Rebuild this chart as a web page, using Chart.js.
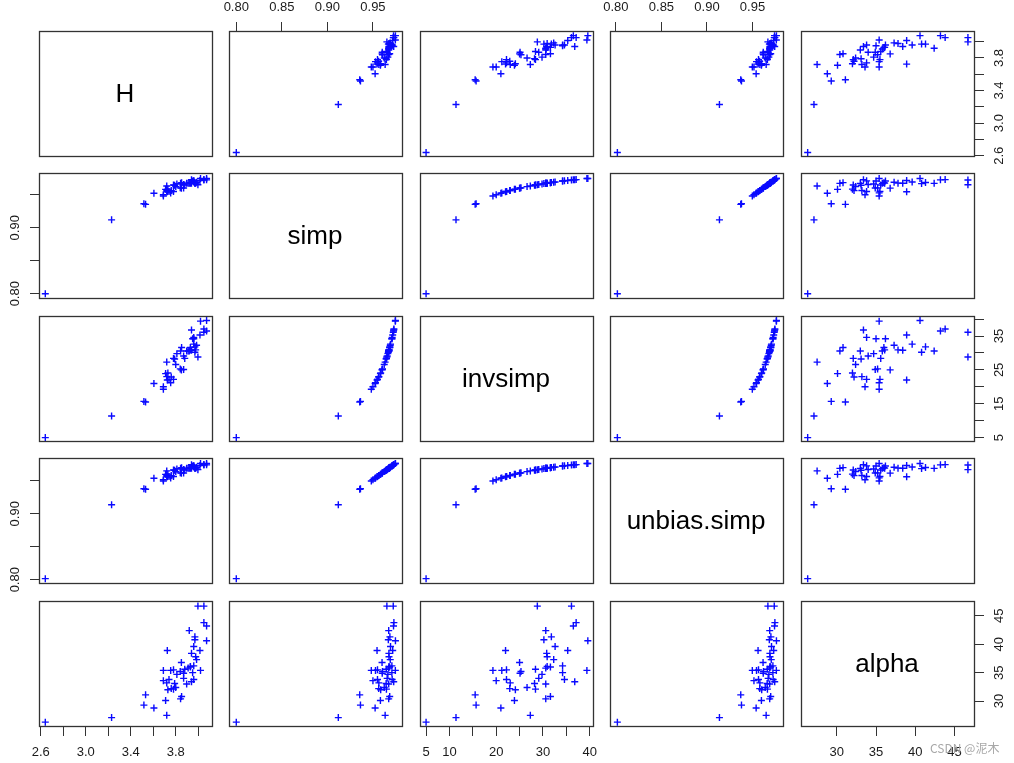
<!DOCTYPE html>
<html><head><meta charset="utf-8">
<script src="https://cdn.jsdelivr.net/npm/chart.js@4.4.1/dist/chart.umd.min.js"></script>
<style>
html,body{margin:0;padding:0;background:#fff;width:1014px;height:763px;overflow:hidden;}
#wrap{position:absolute;left:0;top:0;width:1014px;height:763px;}
#wrap canvas{position:absolute;}
#wm{position:absolute;left:930px;top:739px;font:12px 'Noto Sans CJK SC','Liberation Sans',sans-serif;color:#a8a8a8;white-space:nowrap;}
</style></head><body><div id="wrap"></div><div id="wm">CSDN @泥木</div>
<script>
// ---- data ----
const varNames = ['H', 'simp', 'invsimp', 'unbias.simp', 'alpha'];
const H = [2.641,3.230,3.532,3.517,3.606,3.720,3.710,3.843,3.852,3.790,3.800,3.780,3.760,3.897,3.720,3.730,3.690,3.870,3.960,3.940,3.950,3.810,3.690,3.755,3.780,3.840,4.020,3.880,3.870,3.930,3.910,3.850,3.977,3.985,3.940,3.725,3.960,4.015,4.074,3.970,3.970,3.920,4.050,4.074,3.997,4.050,3.960,3.740,3.930];
const simp = [0.8000,0.9120,0.9355,0.9363,0.9524,0.9634,0.9582,0.9673,0.9684,0.9645,0.9624,0.9648,0.9563,0.9673,0.9565,0.9585,0.9500,0.9656,0.9711,0.9728,0.9708,0.9664,0.9482,0.9528,0.9550,0.9605,0.9746,0.9648,0.9602,0.9676,0.9673,0.9600,0.9676,0.9690,0.9675,0.9545,0.9693,0.9717,0.9747,0.9686,0.9669,0.9673,0.9730,0.9726,0.9653,0.9723,0.9708,0.9550,0.9684];
const invsimp = [5.0,11.4,15.5,15.7,21.0,27.3,23.9,30.6,31.6,28.2,26.6,28.4,22.9,30.6,23.0,24.1,20.0,29.1,34.6,36.8,34.2,29.8,19.3,21.2,22.2,25.3,39.4,28.4,25.1,30.9,30.6,25.0,30.9,32.3,30.8,22.0,32.6,35.3,39.6,31.8,30.2,30.6,37.1,36.5,28.8,36.1,34.2,22.2,31.6];
const unbiasSimp = [0.8016,0.9137,0.9371,0.9379,0.9540,0.9650,0.9598,0.9689,0.9700,0.9661,0.9640,0.9664,0.9579,0.9689,0.9581,0.9601,0.9516,0.9672,0.9727,0.9744,0.9724,0.9680,0.9498,0.9544,0.9566,0.9621,0.9762,0.9664,0.9618,0.9692,0.9689,0.9616,0.9692,0.9706,0.9691,0.9561,0.9709,0.9733,0.9763,0.9702,0.9685,0.9689,0.9746,0.9742,0.9669,0.9739,0.9724,0.9566,0.9700];
const alpha = [26.3,27.1,31.1,29.3,28.8,27.5,30.1,30.4,30.8,33.1,32.4,32.1,32.2,33.0,33.2,32.0,33.6,34.0,33.8,33.4,35.0,34.7,35.4,35.4,35.5,35.2,35.4,35.6,34.9,36.1,35.8,36.8,37.8,37.3,38.4,38.9,39.6,38.9,40.6,41.3,40.8,42.4,43.8,43.2,46.7,46.7,36.2,33.8,36.0];

// axis ranges and ticks
const axisRanges = [[2.585, 4.131], [0.792, 0.983], [3.7, 40.92], [0.7935, 0.9846], [25.45, 47.6]];
const tickH = [2.6, 2.8, 3.0, 3.2, 3.4, 3.6, 3.8, 4.0];
const tickSimp = [0.80, 0.85, 0.90, 0.95];
const tickInvsimp = [5, 10, 15, 20, 25, 30, 35, 40];
const tickUnbias = [0.80, 0.85, 0.90, 0.95];
const tickAlpha = [30, 35, 40, 45];
const tickDecimals = [1, 2, 0, 2, 0];
// labels printed on each outer axis (others left blank like R does)
const bottomLabels = {0: [2.6, 3.0, 3.4, 3.8], 2: [5, 10, 20, 30, 40], 4: [30, 35, 40, 45]};
const topLabels = {1: [0.80, 0.85, 0.90, 0.95], 3: [0.80, 0.85, 0.90, 0.95]};
const leftLabels = {1: [0.80, 0.90], 3: [0.80, 0.90]};
const rightLabels = {0: [2.6, 3.0, 3.4, 3.8], 2: [5, 15, 25, 35], 4: [30, 35, 40, 45]};

const vars = [H, simp, invsimp, unbiasSimp, alpha];
const ticksAll = [tickH, tickSimp, tickInvsimp, tickUnbias, tickAlpha];

// ---- layout ----
const colLeft = [39, 229, 420, 610, 801];
const rowTop = [31, 173, 316, 458, 601];
const PW = 174, PH = 126, M = 42;
const FONT = "'Liberation Sans', Arial, Helvetica, sans-serif";
const TL = 9; // tick length

const mctx = document.createElement('canvas').getContext('2d');
mctx.font = '13px ' + FONT;
function fmt(v, d) { return v.toFixed(d); }
function widestOf(labels, d) {
  let w = 0;
  labels.forEach(l => { w = Math.max(w, mctx.measureText(fmt(l, d)).width); });
  return w;
}

function scaleCfg(axis, vi, position, labels) {
  const visible = !!position;
  const d = tickDecimals[vi];
  const cfg = {
    type: 'linear',
    min: axisRanges[vi][0],
    max: axisRanges[vi][1],
    bounds: 'data',
    display: visible,
    position: position || (axis === 'x' ? 'bottom' : 'left'),
    grid: {display: true, drawOnChartArea: false, drawTicks: true, tickLength: TL, tickColor: '#333', tickWidth: 1, lineWidth: 1},
    border: {display: false},
    ticks: {
      autoSkip: false,
      font: {family: FONT, size: 13},
      color: '#1a1a1a',
      callback: (v) => (labels || []).some(l => Math.abs(l - v) < 1e-9) ? fmt(v, d) : ''
    },
    afterBuildTicks: (s) => { s.ticks = ticksAll[vi].map(v => ({value: v})); }
  };
  if (visible) {
    cfg.afterFit = (s) => { if (axis === 'x') s.height = M; else s.width = M; };
    if (axis === 'x') {
      cfg.ticks.padding = position === 'top' ? 7 : 9;
    } else {
      const w = widestOf(labels, d);
      cfg.ticks.minRotation = 90;
      cfg.ticks.maxRotation = 90;
      cfg.ticks.crossAlign = 'center';
      cfg.ticks.padding = Math.max(0, 24 - TL - w / 2);
    }
  }
  return cfg;
}

const boxPlugin = {
  id: 'panelBox',
  afterDraw(chart) {
    const a = chart.chartArea, ctx = chart.ctx;
    ctx.save();
    ctx.strokeStyle = '#333';
    ctx.lineWidth = 1.3;
    ctx.strokeRect(a.left + 0.5, a.top + 0.5, a.right - a.left - 1, a.bottom - a.top - 1);
    const lbl = chart.options.plugins.panelBox && chart.options.plugins.panelBox.label;
    if (lbl) {
      ctx.fillStyle = '#000';
      ctx.font = '26px ' + FONT;
      ctx.textAlign = 'center';
      ctx.textBaseline = 'middle';
      ctx.fillText(lbl, (a.left + a.right) / 2 - 1, (a.top + a.bottom) / 2 + 1);
    }
    ctx.restore();
  }
};

const wrap = document.getElementById('wrap');
for (let i = 0; i < 5; i++) {
  for (let j = 0; j < 5; j++) {
    let xPos = null, yPos = null, xLabels = null, yLabels = null;
    if (i === 0 && j % 2 === 1) { xPos = 'top'; xLabels = topLabels[j]; }
    if (i === 4 && j % 2 === 0) { xPos = 'bottom'; xLabels = bottomLabels[j]; }
    if (j === 0 && i % 2 === 1) { yPos = 'left'; yLabels = leftLabels[i]; }
    if (j === 4 && i % 2 === 0) { yPos = 'right'; yLabels = rightLabels[i]; }

    const cv = document.createElement('canvas');
    cv.width = PW + 2 * M;
    cv.height = PH + 2 * M;
    cv.style.left = (colLeft[j] - M) + 'px';
    cv.style.top = (rowTop[i] - M) + 'px';
    wrap.appendChild(cv);

    const pts = [];
    if (i !== j) {
      for (let k = 0; k < H.length; k++) pts.push({x: vars[j][k], y: vars[i][k]});
    }

    new Chart(cv, {
      type: 'scatter',
      data: {datasets: [{
        data: pts,
        pointStyle: 'cross',
        radius: 3.5,
        hoverRadius: 3.5,
        borderColor: '#0a0aff',
        backgroundColor: '#0a0aff',
        borderWidth: 1.4,
        showLine: false
      }]},
      options: {
        responsive: false,
        animation: false,
        devicePixelRatio: 1,
        events: [],
        layout: {padding: {
          top: xPos === 'top' ? 0 : M,
          bottom: xPos === 'bottom' ? 0 : M,
          left: yPos === 'left' ? 0 : M,
          right: yPos === 'right' ? 0 : M
        }},
        scales: {
          x: scaleCfg('x', j, xPos, xLabels),
          y: scaleCfg('y', i, yPos, yLabels)
        },
        plugins: {
          legend: {display: false},
          tooltip: {enabled: false},
          panelBox: {label: i === j ? varNames[i] : null}
        }
      },
      plugins: [boxPlugin]
    });
  }
}
</script>
</body></html>
